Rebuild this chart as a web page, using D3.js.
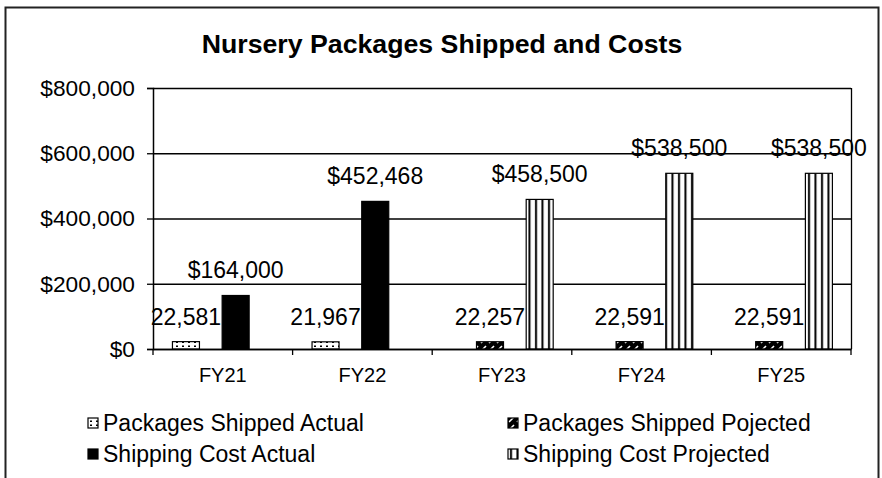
<!DOCTYPE html>
<html>
<head>
<meta charset="utf-8">
<script src="https://cdn.jsdelivr.net/npm/d3@7"></script>
<style>
  body { margin: 0; background: #fff; }
  text { font-family: "Liberation Sans", Arial, sans-serif; fill: #000; }
</style>
</head>
<body>
<svg id="chart" width="882" height="478"></svg>
<script>
// data
var categories = ["FY21", "FY22", "FY23", "FY24", "FY25"];
var seriesNames = ["Packages Shipped Actual", "Packages Shipped Pojected", "Shipping Cost Actual", "Shipping Cost Projected"];
var packagesActual = [22581, 21967, null, null, null];
var packagesProjected = [null, null, 22257, 22591, 22591];
var costActual = [164000, 452468, null, null, null];
var costProjected = [null, null, 458500, 538500, 538500];
var yTicks = [0, 200000, 400000, 600000, 800000];

var width = 882, height = 478;
var margin = {top: 88, right: 31, bottom: 129, left: 153};

var svg = d3.select("#chart");

// patterns
var defs = svg.append("defs");
var pDots = defs.append("pattern").attr("id", "dots")
    .attr("patternUnits", "userSpaceOnUse").attr("width", 6).attr("height", 4);
pDots.append("rect").attr("width", 6).attr("height", 4).attr("fill", "#fff");
pDots.append("rect").attr("x", 2).attr("y", 1.5).attr("width", 2).attr("height", 1.5).attr("fill", "#000");

var pDiag = defs.append("pattern").attr("id", "diag")
    .attr("patternUnits", "userSpaceOnUse").attr("width", 8).attr("height", 8);
pDiag.append("rect").attr("width", 8).attr("height", 8).attr("fill", "#000");
pDiag.append("path").attr("d", "M1,7 L6,2").attr("stroke", "#fff").attr("stroke-width", 1.6);

var pVert = defs.append("pattern").attr("id", "vert")
    .attr("patternUnits", "userSpaceOnUse").attr("width", 6.5).attr("height", 10);
pVert.append("rect").attr("width", 6.5).attr("height", 10).attr("fill", "#fff");
pVert.append("rect").attr("x", 2).attr("width", 2).attr("height", 10).attr("fill", "#000");

var fills = ["url(#dots)", "url(#diag)", "#000", "url(#vert)"];
var seriesValues = [packagesActual, packagesProjected, costActual, costProjected];

// outer frame
svg.append("rect")
    .attr("x", 5.5).attr("y", 7.5)
    .attr("width", 873).attr("height", 480)
    .attr("fill", "none").attr("stroke", "#222").attr("stroke-width", 2);

svg.append("text")
    .attr("x", 442).attr("y", 53)
    .attr("text-anchor", "middle")
    .style("font-size", "26.7px").style("font-weight", "bold")
    .text("Nursery Packages Shipped and Costs");

var x = d3.scaleBand()
    .domain(categories)
    .range([margin.left, width - margin.right]);

var slot = d3.scalePoint()
    .domain(d3.range(seriesNames.length))
    .range([x.bandwidth() * 0.236, x.bandwidth() * 0.77]);
var barW = 27;

var y = d3.scaleLinear()
    .domain([0, 800000])
    .range([height - margin.bottom, margin.top]);

var money = function(d) { return "$" + d3.format(",")(d); };

var g = svg.append("g");

// gridlines
g.selectAll(".grid").data(yTicks).enter().append("line")
    .attr("x1", margin.left).attr("x2", width - margin.right)
    .attr("y1", function(d) { return y(d) + 0.5; })
    .attr("y2", function(d) { return y(d) + 0.5; })
    .attr("stroke", "#000").attr("stroke-width", 1.3);

// right edge of plot area
g.append("line")
    .attr("x1", width - margin.right + 0.5).attr("x2", width - margin.right + 0.5)
    .attr("y1", y(800000)).attr("y2", y(0))
    .attr("stroke", "#000").attr("stroke-width", 1.3);

// bars
seriesValues.forEach(function(vals, si) {
  var rows = categories.map(function(c, i) { return {cat: c, v: vals[i]}; })
      .filter(function(d) { return d.v != null; });

  g.selectAll(".bar" + si).data(rows).enter().append("rect")
      .attr("x", function(d) { return x(d.cat) + slot(si) - barW / 2; })
      .attr("y", function(d) { return y(d.v); })
      .attr("width", barW)
      .attr("height", function(d) { return y(0) - y(d.v); })
      .attr("fill", fills[si])
      .attr("stroke", "#000").attr("stroke-width", 1.2);

  g.selectAll(".lab" + si).data(rows).enter().append("text")
      .attr("x", function(d) { return x(d.cat) + slot(si); })
      .attr("y", function(d) { return y(d.v) - 17; })
      .attr("text-anchor", "middle")
      .style("font-size", "23px")
      .text(function(d) { return si < 2 ? d3.format(",")(d.v) : money(d.v); });
});

// axes
var yAxis = g.append("g")
    .attr("transform", "translate(" + margin.left + ",0)")
    .call(d3.axisLeft(y).tickValues(yTicks).tickFormat(money).tickSize(6).tickPadding(12));
yAxis.selectAll("text").style("font-size", "22.7px");

var xAxis = g.append("g")
    .attr("transform", "translate(0," + y(0) + ")")
    .call(d3.axisBottom(x).tickSize(0).tickPadding(19));
xAxis.selectAll("text").style("font-size", "20px");
// category boundary ticks
xAxis.selectAll(".sep").data(categories.concat(["end"])).enter().append("line")
    .attr("x1", function(d, i) { return margin.left + i * x.step(); })
    .attr("x2", function(d, i) { return margin.left + i * x.step(); })
    .attr("y1", 0).attr("y2", 6)
    .attr("stroke", "#000").attr("stroke-width", 1.3);

svg.selectAll(".domain").attr("stroke", "#000").attr("stroke-width", 1.5);
svg.selectAll(".tick line").attr("stroke", "#000").attr("stroke-width", 1.3);

// legend
var legendPos = [[88, 423], [508, 423], [88, 454], [508, 454]];
var legend = svg.append("g");
seriesNames.forEach(function(name, i) {
  var item = legend.append("g")
      .attr("transform", "translate(" + legendPos[i][0] + "," + legendPos[i][1] + ")");
  item.append("rect")
      .attr("x", 0).attr("y", -5).attr("width", 10).attr("height", 10)
      .attr("fill", fills[i]).attr("stroke", "#000").attr("stroke-width", 1.2);
  item.append("text")
      .attr("x", 15).attr("y", 8)
      .style("font-size", "23px")
      .text(name);
});
</script>
</body>
</html>
